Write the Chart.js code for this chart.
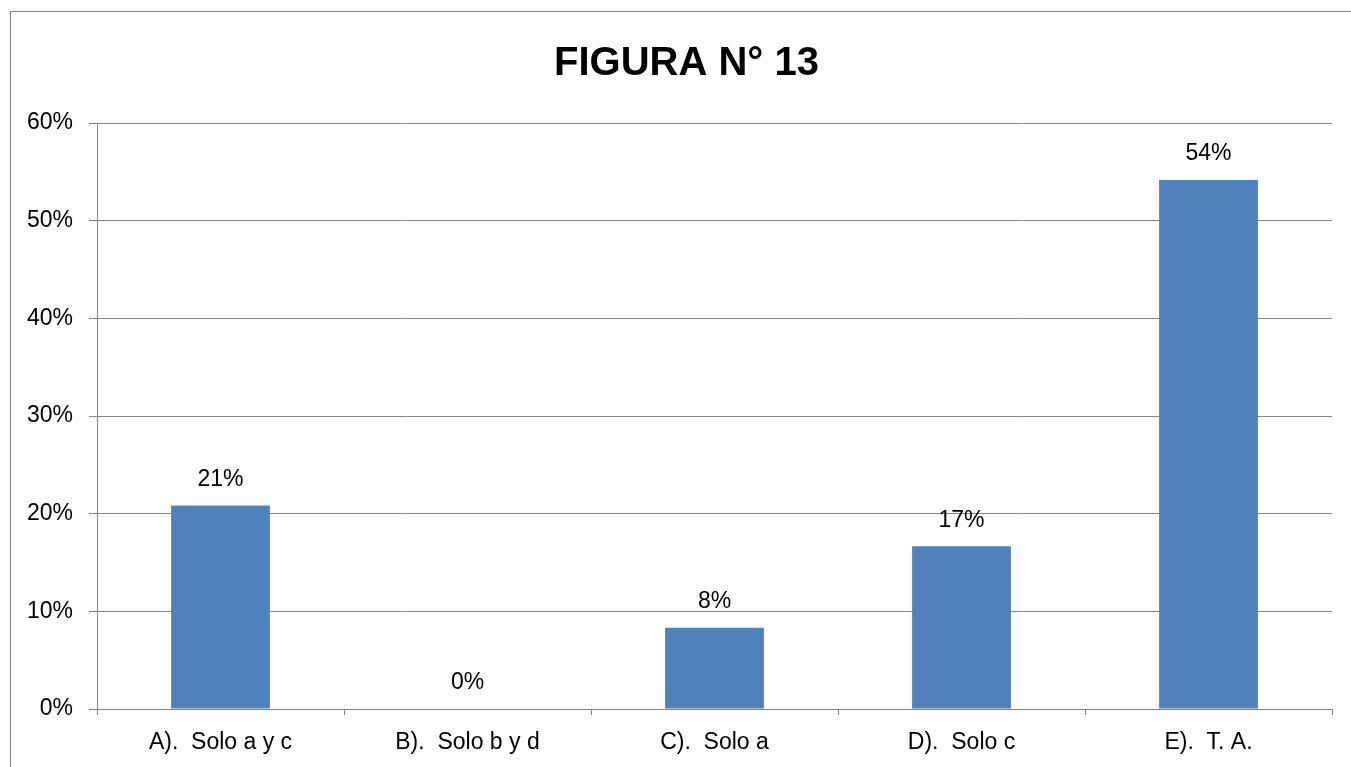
<!DOCTYPE html>
<html>
<head>
<meta charset="utf-8">
<script src="https://cdn.jsdelivr.net/npm/chart.js@4/dist/chart.umd.min.js"></script>
<style>
  html, body { margin: 0; padding: 0; background: #fff; overflow: hidden; }
  #frame {
    position: absolute; left: 10px; top: 11px;
    width: 1351px; height: 757px;
    border: 1px solid #868686;
  }
</style>
</head>
<body>
<div id="frame"><canvas id="chart"></canvas></div>
<script>
const categories = ['A).  Solo a y c', 'B).  Solo b y d', 'C).  Solo a', 'D).  Solo c', 'E).  T. A.'];
const percentages = [20.83, 0, 8.33, 16.67, 54.17];
const titleText = 'FIGURA N° 13';

const FONT = "'Liberation Sans', Arial, sans-serif";
const GRID = '#868686';

// value labels above each bar, positioned from the bar elements
const barLabels = {
  id: 'barLabels',
  afterDatasetsDraw(chart) {
    const ctx = chart.ctx;
    const meta = chart.getDatasetMeta(0);
    ctx.save();
    ctx.font = '23px ' + FONT;
    ctx.fillStyle = '#000';
    ctx.textAlign = 'center';
    ctx.textBaseline = 'middle';
    meta.data.forEach((bar, i) => {
      ctx.fillText(Math.round(percentages[i]) + '%', bar.x, bar.y - 26);
    });
    ctx.restore();
  }
};

// title centred on the whole (cropped) frame, not on the plot
const frameTitle = {
  id: 'frameTitle',
  afterDraw(chart) {
    const ctx = chart.ctx;
    ctx.save();
    ctx.font = 'bold 40px ' + FONT;
    ctx.fillStyle = '#000';
    ctx.textAlign = 'center';
    ctx.textBaseline = 'middle';
    ctx.fillText(titleText, chart.width / 2, 52);
    ctx.restore();
  }
};

new Chart(document.getElementById('chart'), {
  type: 'bar',
  data: {
    labels: categories,
    datasets: [{
      data: percentages,
      backgroundColor: '#4F81BD',
      borderWidth: 0,
      barPercentage: 0.4,
      categoryPercentage: 1
    }]
  },
  options: {
    responsive: true,
    maintainAspectRatio: false,
    animation: false,
    layout: { padding: { left: 0, right: 30, top: 111, bottom: 0 } },
    plugins: {
      legend: { display: false },
      tooltip: { enabled: false },
      title: { display: false }
    },
    scales: {
      x: {
        grid: {
          offset: true,
          drawOnChartArea: false,
          drawTicks: true,
          tickLength: 6,
          color: GRID
        },
        border: { color: GRID, width: 1 },
        ticks: {
          color: '#000',
          padding: 14,
          maxRotation: 0,
          autoSkip: false,
          font: { family: FONT, size: 23 }
        },
        afterFit(scale) { scale.height = 60; }
      },
      y: {
        min: 0,
        max: 60,
        grid: { color: GRID, tickLength: 8, lineWidth: 1 },
        border: { color: GRID, width: 1 },
        ticks: {
          stepSize: 10,
          color: '#000',
          padding: 16,
          font: { family: FONT, size: 23 },
          callback: v => v + '%'
        },
        afterFit(scale) { scale.width = 86; }
      }
    }
  },
  plugins: [barLabels, frameTitle]
});
</script>
</body>
</html>
